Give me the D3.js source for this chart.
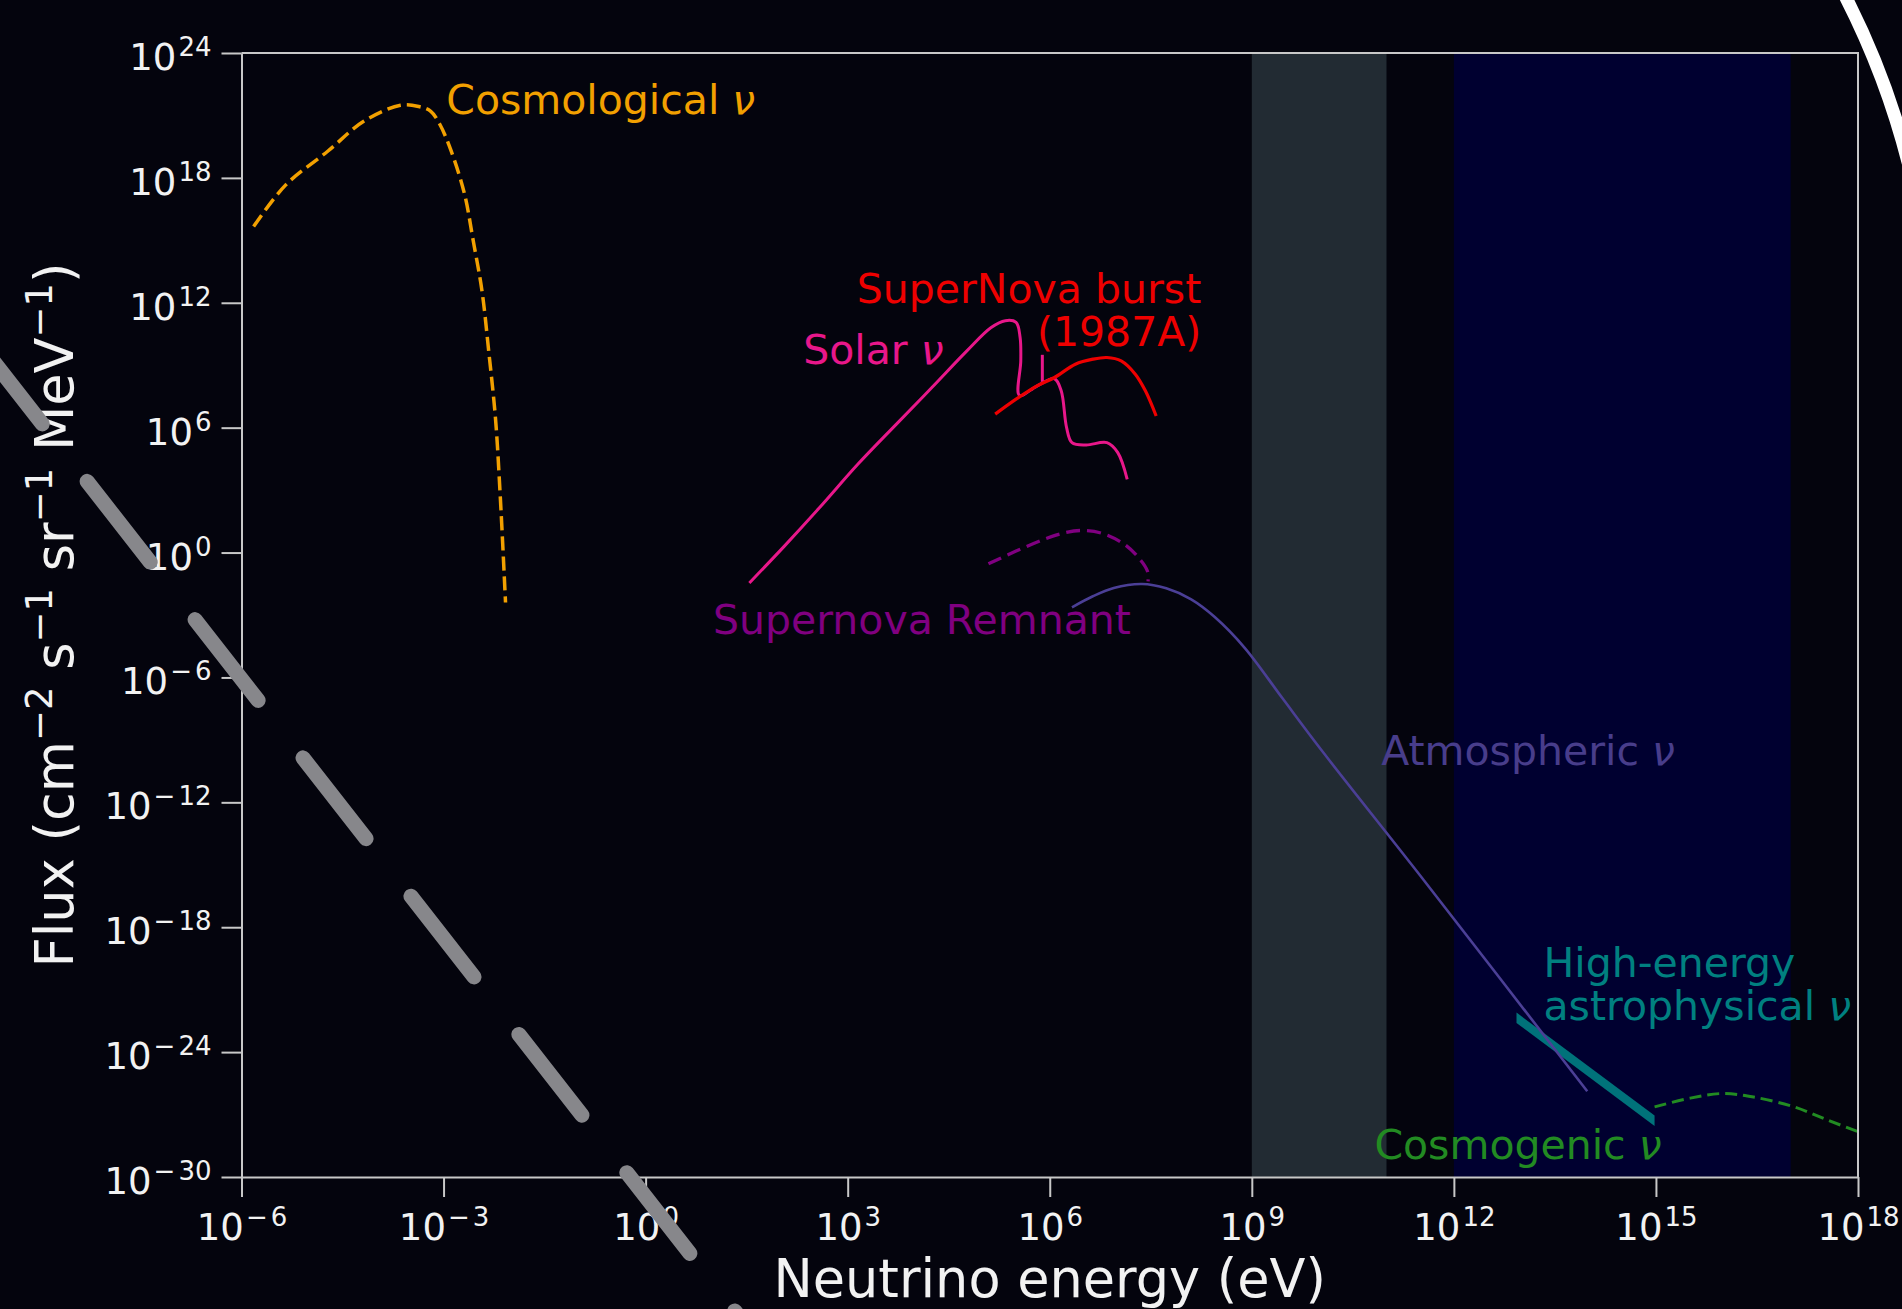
<!DOCTYPE html>
<html>
<head>
<meta charset="utf-8">
<script src="https://cdn.jsdelivr.net/npm/d3@7"></script>
<style>
  body { margin: 0; background: #04040d; }
  svg { display: block; }
  text { font-family: "DejaVu Sans", sans-serif; }
</style>
</head>
<body>
<div id="chart"></div>
<script>
// all energies / fluxes are log10 values (eV, cm^-2 s^-1 sr^-1 MeV^-1)
const xTickPowers = [-6, -3, 0, 3, 6, 9, 12, 15, 18]
const yTickPowers = [-30, -24, -18, -12, -6, 0, 6, 12, 18, 24]

const cosmoE = [-5.82, -5.35, -4.72, -4.18, -3.64, -3.37, -3.19, -3.06, -2.89, -2.69, -2.56, -2.43, -2.33, -2.23, -2.16, -2.08]
const cosmoF = [15.66, 17.64, 19.28, 20.73, 21.49, 21.43, 21.2, 20.60, 19.32, 17.24, 14.99, 12.58, 9.69, 6.48, 2.81, -2.4]

const solarE = [1.54, 2.06, 2.58, 3.15, 3.72, 4.25, 4.77, 5.13, 5.34, 5.50, 5.56, 5.57, 5.55, 5.81, 6.07, 6.17, 6.25, 6.33, 6.54, 6.85, 7.01, 7.15]
const solarF = [-1.46, 0.31, 2.15, 4.24, 6.16, 7.93, 9.69, 10.81, 11.14, 11.06, 10.33, 9.21, 7.55, 8.0, 8.35, 7.77, 6.00, 5.28, 5.17, 5.28, 4.80, 3.52]
// 7Be line
const solarLineE = [5.89, 5.89]
const solarLineF = [8.2, 9.5]

const burstE = [5.19, 5.50, 5.81, 6.07, 6.38, 6.64, 6.85, 7.06, 7.27, 7.42, 7.58]
const burstF = [6.65, 7.37, 8.01, 8.41, 9.05, 9.29, 9.37, 9.21, 8.57, 7.77, 6.56]

const remnantE = [5.09, 5.50, 5.91, 6.22, 6.48, 6.80, 7.11, 7.32, 7.45, 7.46]
const remnantF = [-0.54, 0.07, 0.63, 0.95, 1.06, 0.90, 0.39, -0.25, -0.89, -1.38]

const atmoE = [6.33, 6.64, 6.95, 7.37, 7.73, 8.10, 8.45, 8.90, 9.45, 10.05, 11.58, 13.98]
const atmoF = [-2.63, -2.10, -1.70, -1.51, -1.72, -2.25, -3.1, -4.6, -6.98, -9.56, -15.85, -25.88]

const astroE = [12.93, 14.98]
const astroHi = [-22.1, -27.05]
const astroLo = [-22.6, -27.55]

const cosmogenicE = [14.98, 15.51, 15.98, 16.45, 17.05, 17.56, 18.03]
const cosmogenicF = [-26.63, -26.21, -25.99, -26.16, -26.63, -27.28, -27.86]

const bands = [
  { from: 9, to: 11, color: "#222b33" },
  { from: 12, to: 17, color: "#000030" }
]

const curves = [
  { E: remnantE, F: remnantF, color: "#800080", width: 3.3, dash: "14,7" },
  { E: cosmoE, F: cosmoF, color: "#f2a000", width: 3.5, dash: "14,6" },
  { E: solarE, F: solarF, color: "#e8178a", width: 3 },
  { E: solarLineE, F: solarLineF, color: "#e8178a", width: 3 },
  { E: burstE, F: burstF, color: "#ee0000", width: 3.2 },
  { E: cosmogenicE, F: cosmogenicF, color: "#228b22", width: 3, dash: "12,6" }
]

// labels: anchor point in log10 data coords
const labels = [
  { lines: ["Cosmological ν"], e: -2.96, f: 21.05, color: "#f2a000", anchor: "start" },
  { lines: ["SuperNova burst", "(1987A)"], e: 8.25, f: 11.97, color: "#ee0000", anchor: "end" },
  { lines: ["Solar ν"], e: 2.34, f: 9.07, color: "#e8178a", anchor: "start" },
  { lines: ["Supernova Remnant"], e: 1.0, f: -3.93, color: "#800080", anchor: "start" },
  { lines: ["Atmospheric ν"], e: 10.92, f: -10.2, color: "#483d8b", anchor: "start" },
  { lines: ["High-energy", "astrophysical ν"], e: 13.33, f: -20.4, color: "#008080", anchor: "start" },
  { lines: ["Cosmogenic ν"], e: 10.82, f: -29.14, color: "#228b22", anchor: "start" }
]

const margin = { top: 53, right: 44, bottom: 132, left: 241.5 }
const W = 1902, H = 1309
const width = W - margin.left - margin.right
const height = H - margin.top - margin.bottom

const svg = d3.select("#chart").append("svg")
    .attr("width", W)
    .attr("height", H)

const g = svg.append("g")
    .attr("transform", "translate(" + margin.left + "," + margin.top + ")")

const x = d3.scaleLog().domain([1e-6, 1e18]).range([0, width])
const y = d3.scaleLog().domain([1e-30, 1e24]).range([height, 0])

const px = e => x(Math.pow(10, e))
const py = f => y(Math.pow(10, f))

// shaded energy ranges
g.selectAll("rect.band")
  .data(bands)
  .join("rect")
  .attr("class", "band")
  .attr("x", d => px(d.from))
  .attr("width", d => px(d.to) - px(d.from))
  .attr("y", 0)
  .attr("height", height)
  .attr("fill", d => d.color)

const line = d3.line()
  .x(d => px(d[0]))
  .y(d => py(d[1]))
  .curve(d3.curveCatmullRom.alpha(0.5))

// astrophysical band
const astro = astroE.map((e, i) => [e, astroHi[i], astroLo[i]])
g.append("path")
  .attr("d", d3.area().x(d => px(d[0])).y0(d => py(d[2])).y1(d => py(d[1]))(astro))
  .attr("fill", "#00727a")

g.selectAll("path.curve")
  .data(curves)
  .join("path")
  .attr("class", "curve")
  .attr("d", d => line(d.E.map((e, i) => [e, d.F[i]])))
  .attr("fill", "none")
  .attr("stroke", d => d.color)
  .attr("stroke-width", d => d.width)
  .attr("stroke-dasharray", d => d.dash || null)
  .attr("stroke-linejoin", "round")

// atmospheric on top of astro band
g.append("path")
  .attr("d", line(atmoE.map((e, i) => [e, atmoF[i]])))
  .attr("fill", "none")
  .attr("stroke", "#4b3f96")
  .attr("stroke-width", 2.6)

// labels
labels.forEach(l => {
  const t = g.append("text")
    .attr("x", px(l.e))
    .attr("y", py(l.f))
    .attr("fill", l.color)
    .attr("font-size", 41)
    .attr("text-anchor", l.anchor)
  l.lines.forEach((s, i) => {
    const ts = t.append("tspan")
      .attr("x", px(l.e))
      .attr("dy", i === 0 ? 0 : 43)
    if (s.endsWith("ν")) {
      ts.append("tspan").text(s.slice(0, -1))
      ts.append("tspan").attr("font-style", "italic").text("ν")
    } else {
      ts.text(s)
    }
  })
})

// axes
const axisColor = "#c8c8c8"

const xAxis = d3.axisBottom(x)
  .tickValues(xTickPowers.map(p => Math.pow(10, p)))
  .tickSize(20)
  .tickSizeOuter(0)
  .tickFormat("")

const yAxis = d3.axisLeft(y)
  .tickValues(yTickPowers.map(p => Math.pow(10, p)))
  .tickSize(20)
  .tickSizeOuter(0)
  .tickFormat("")

const gx = g.append("g")
  .attr("transform", "translate(0," + height + ")")
  .call(xAxis)

const gy = g.append("g").call(yAxis)

;[gx, gy].forEach(a => {
  a.attr("font-family", "DejaVu Sans, sans-serif").attr("font-size", 37)
  a.select(".domain").attr("stroke", axisColor).attr("stroke-width", 2)
  a.selectAll(".tick line").attr("stroke", axisColor).attr("stroke-width", 2)
  a.selectAll(".tick text").attr("fill", "#f2f2f2")
})

// 10^p with a raised exponent
function powLabel (t, p) {
  t.text(null)
  t.append("tspan").text("10")
  if (p < 0) {
    t.append("tspan").attr("font-size", 26).attr("dx", 2).attr("dy", -14).text("\u2212")
    t.append("tspan").attr("font-size", 26).attr("dx", 3).text(-p)
  } else {
    t.append("tspan").attr("font-size", 26).attr("dx", 2).attr("dy", -14).text(p)
  }
}

gx.selectAll(".tick text").each(function (d) {
  const t = d3.select(this).attr("y", 62.5).attr("dy", null)
  powLabel(t, Math.round(Math.log10(d)))
})

gy.selectAll(".tick text").each(function (d) {
  const t = d3.select(this).attr("x", -30).attr("y", 16.5).attr("dy", null)
  powLabel(t, Math.round(Math.log10(d)))
})

// top and right spines
g.append("path")
  .attr("d", "M0,0H" + width + "V" + height)
  .attr("fill", "none")
  .attr("stroke", axisColor)
  .attr("stroke-width", 2)

// axis titles
svg.append("text")
  .attr("x", margin.left + width / 2)
  .attr("y", 1297)
  .attr("text-anchor", "middle")
  .attr("fill", "#f2f2f2")
  .attr("font-size", 52.5)
  .text("Neutrino energy (eV)")

const yl = svg.append("text")
  .attr("transform", "translate(73," + (margin.top + height / 2) + ") rotate(-90)")
  .attr("text-anchor", "middle")
  .attr("fill", "#f2f2f2")
  .attr("font-size", 52.5)
const sup = (txt) => yl.append("tspan").attr("font-size", 37).attr("dy", -21).text(txt)
const base = (txt) => yl.append("tspan").attr("dy", 21).text(txt)
yl.append("tspan").text("Flux (cm")
sup("\u22122"); base(" s"); sup("\u22121"); base(" sr"); sup("\u22121"); base(" MeV"); sup("\u22121"); base(")")

// slide decorations on top of the figure
const dir = [0.6154, 0.7883]
const start = [-20.8, 343.1]
svg.append("path")
  .attr("d", d3.line()([start, [start[0] + dir[0] * 1250, start[1] + dir[1] * 1250]]))
  .attr("stroke", "#87878b")
  .attr("stroke-width", 15)
  .attr("stroke-linecap", "round")
  .attr("stroke-dasharray", "102.5,72.9")
  .attr("fill", "none")

svg.append("path")
  .attr("d", "M1842,-10 A798,798 0 0,1 1910,170")
  .attr("stroke", "#ffffff")
  .attr("stroke-width", 13)
  .attr("fill", "none")
</script>
</body>
</html>
